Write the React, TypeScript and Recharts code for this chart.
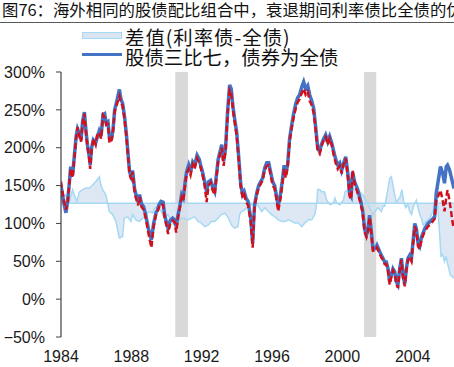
import { ComposedChart, Line, Area, XAxis, YAxis, ReferenceArea } from "recharts";

// 股债三比七组合净值（%），按时间读取
const years = [
  1984.0, 1984.06, 1984.15, 1984.28, 1984.38, 1984.46, 1984.55, 1984.66, 1984.86, 1984.94,
  1985.06, 1985.14, 1985.23, 1985.33, 1985.43, 1985.51, 1985.6, 1985.66, 1985.74, 1985.84,
  1985.97, 1986.05, 1986.17, 1986.28, 1986.39, 1986.48, 1986.58, 1986.67, 1986.76, 1986.88,
  1986.96, 1987.05, 1987.16, 1987.32, 1987.42, 1987.5, 1987.62, 1987.73, 1987.82, 1987.9,
  1987.99, 1988.07, 1988.19, 1988.3, 1988.39, 1988.47, 1988.58, 1988.7, 1988.81, 1988.98,
  1989.14, 1989.27, 1989.41, 1989.49, 1989.58, 1989.69, 1989.81, 1989.89, 1990.01, 1990.09,
  1990.21, 1990.35, 1990.46, 1990.55, 1990.66, 1990.75, 1990.86, 1990.95, 1991.06, 1991.14,
  1991.26, 1991.37, 1991.49, 1991.6, 1991.74, 1991.86, 1991.94, 1992.05, 1992.17, 1992.28,
  1992.39, 1992.51, 1992.62, 1992.74, 1992.82, 1992.94, 1993.05, 1993.14, 1993.25, 1993.36,
  1993.48, 1993.59, 1993.68, 1993.79, 1993.9, 1993.99, 1994.1, 1994.22, 1994.33, 1994.42,
  1994.53, 1994.64, 1994.79, 1994.9, 1994.96, 1995.01, 1995.13, 1995.24, 1995.35, 1995.47,
  1995.58, 1995.7, 1995.81, 1995.92, 1996.04, 1996.15, 1996.24, 1996.35, 1996.46, 1996.58,
  1996.69, 1996.78, 1996.89, 1997.0, 1997.12, 1997.23, 1997.35, 1997.46, 1997.57, 1997.69,
  1997.8, 1997.91, 1998.03, 1998.14, 1998.26, 1998.37, 1998.48, 1998.6, 1998.71, 1998.82,
  1998.94, 1999.05, 1999.17, 1999.28, 1999.39, 1999.51, 1999.62, 1999.74, 1999.85, 1999.96,
  2000.08, 2000.19, 2000.25, 2000.34, 2000.41, 2000.5, 2000.58, 2000.7, 2000.87, 2001.04,
  2001.15, 2001.27, 2001.37, 2001.46, 2001.55, 2001.65, 2001.74, 2001.89, 2001.97, 2002.12,
  2002.22, 2002.31, 2002.41, 2002.5, 2002.6, 2002.69, 2002.79, 2002.88, 2002.98, 2003.07,
  2003.16, 2003.26, 2003.36, 2003.45, 2003.55, 2003.64, 2003.73, 2003.83, 2003.93, 2004.02,
  2004.12, 2004.21, 2004.3, 2004.4, 2004.5, 2004.59, 2004.68, 2004.87, 2005.06, 2005.25,
  2005.34, 2005.43, 2005.58, 2005.7, 2005.81, 2005.91, 2005.98, 2006.09, 2006.28, 2006.35,
];

// 股债三比七，债券为全债
const allBond = [
  150, 142, 128, 114, 130, 150, 175, 164, 215, 225,
  218, 210, 235, 247, 220, 203, 190, 177, 200, 210,
  206, 213, 222, 215, 244, 245, 232, 234, 212, 213,
  224, 250, 260, 277, 263, 259, 240, 215, 190, 168,
  162, 170, 145, 135, 128, 138, 126, 122, 112, 92,
  78, 100, 115, 118, 125, 129, 128, 112, 100, 94,
  104, 107, 105, 96, 112, 122, 138, 134, 155, 168,
  177, 168, 181, 177, 190, 185, 177, 168, 155, 142,
  155, 157, 148, 142, 160, 185, 195, 204, 182, 200,
  250, 283, 278, 252, 234, 221, 190, 152, 138, 142,
  133, 129, 107, 74, 105, 125, 140, 150, 155, 160,
  173, 180, 180, 168, 155, 150, 138, 124, 135, 155,
  177, 165, 178, 212, 230, 245, 258, 266, 270, 280,
  287, 278, 282, 270, 262, 252, 228, 199, 195, 205,
  212, 217, 208, 215, 207, 195, 185, 177, 180, 170,
  180, 188, 178, 160, 140, 136, 168, 155, 145, 130,
  118, 92, 85, 93, 111, 89, 67, 67, 71, 63,
  58, 54, 49, 49, 40, 23, 32, 40, 36, 23,
  19, 40, 54, 32, 20, 40, 54, 58, 54, 76,
  100, 93, 75, 70, 82, 87, 93, 100, 104, 109,
  140, 153, 175, 167, 153, 175, 177, 171, 153, 146,
];

// 股债三比七，债券为利率债
const rateBond = [
  155, 145, 132, 118, 128, 148, 172, 160, 212, 227,
  214, 208, 232, 245, 218, 200, 186, 172, 197, 212,
  204, 216, 220, 212, 243, 240, 230, 231, 206, 210,
  222, 247, 256, 268, 258, 256, 236, 212, 186, 165,
  158, 168, 140, 130, 124, 135, 122, 118, 108, 86,
  68, 96, 112, 116, 122, 126, 124, 108, 96, 86,
  100, 104, 102, 88, 108, 120, 134, 130, 150, 165,
  172, 164, 178, 172, 186, 180, 174, 164, 150, 128,
  150, 154, 144, 138, 156, 182, 192, 200, 176, 196,
  245, 276, 272, 248, 230, 216, 186, 148, 134, 138,
  128, 124, 102, 68, 100, 122, 137, 147, 152, 157,
  170, 176, 177, 164, 150, 146, 134, 116, 130, 150,
  172, 160, 174, 208, 226, 240, 252, 260, 264, 272,
  278, 270, 274, 262, 256, 246, 224, 196, 192, 202,
  210, 214, 204, 212, 204, 190, 180, 172, 176, 166,
  178, 186, 174, 156, 136, 132, 170, 152, 140, 126,
  114, 88, 82, 90, 108, 86, 64, 64, 68, 60,
  55, 52, 46, 46, 37, 19, 30, 38, 33, 20,
  15, 38, 52, 28, 17, 38, 51, 55, 50, 72,
  96, 90, 70, 66, 78, 84, 89, 96, 100, 106,
  131, 135, 144, 131, 116, 134, 144, 131, 100, 93,
];

// 差值（利率债-全债），百分点
const diffYears = [
  1984.0, 1984.19, 1984.38, 1984.47, 1984.66, 1984.76, 1984.9, 1985.04, 1985.23, 1985.42,
  1985.61, 1985.8, 1985.99, 1986.18, 1986.27, 1986.37, 1986.55, 1986.65, 1986.75, 1986.94,
  1987.12, 1987.32, 1987.5, 1987.6, 1987.79, 1987.98, 1988.07, 1988.26, 1988.45, 1988.64,
  1988.83, 1989.02, 1989.21, 1989.32, 1989.51, 1989.71, 1989.89, 1990.08, 1990.27, 1990.46,
  1990.65, 1990.84, 1991.03, 1991.22, 1991.41, 1991.6, 1991.79, 1991.98, 1992.17, 1992.36,
  1992.55, 1992.74, 1992.92, 1993.12, 1993.31, 1993.49, 1993.69, 1993.87, 1994.06, 1994.16,
  1994.26, 1994.44, 1994.63, 1994.83, 1995.03, 1995.22, 1995.41, 1995.6, 1995.79, 1995.98,
  1996.17, 1996.36, 1996.55, 1996.74, 1996.93, 1997.12, 1997.3, 1997.5, 1997.69, 1997.87,
  1998.07, 1998.26, 1998.44, 1998.54, 1998.6, 1998.73, 1998.82, 1998.98, 1999.11, 1999.3,
  1999.49, 1999.58, 1999.68, 1999.86, 2000.06, 2000.15, 2000.34, 2000.53, 2000.8, 2000.99,
  2001.17, 2001.37, 2001.55, 2001.74, 2001.84, 2002.03, 2002.22, 2002.31, 2002.41, 2002.5,
  2002.6, 2002.69, 2002.79, 2002.88, 2002.98, 2003.07, 2003.26, 2003.39, 2003.49, 2003.6,
  2003.73, 2003.83, 2003.93, 2004.02, 2004.21, 2004.3, 2004.4, 2004.5, 2004.59, 2004.78,
  2004.97, 2005.06, 2005.15, 2005.31, 2005.38, 2005.43, 2005.53, 2005.61, 2005.7, 2005.81,
  2005.89, 2006.0, 2006.14, 2006.35,
];

const diffValues = [
  13, 11, 11, 2, 18, 11, 2, 15, 18, 20,
  20, 24, 29, 35, 24, 18, 11, 0, -11, -15,
  -24, -46, -44, -20, -18, -24, -15, -22, -24, -20,
  -15, -11, -13, -7, -4, -11, -20, -15, -24, -29,
  -24, -20, -20, -22, -20, -18, -24, -26, -31, -29,
  -24, -24, -20, -15, -13, -18, -29, -33, -31, -15,
  -11, -9, -4, -2, 0, -4, -11, -6, -11, -15,
  -18, -22, -24, -24, -22, -24, -26, -26, -31, -26,
  -22, -22, -15, 0, 18, 18, 15, 15, 4, -2,
  0, 7, 0, -2, 4, 15, 18, 18, 20, 15,
  11, 2, -6, -15, -11, -6, -11, -4, -4, 7,
  20, 33, 35, 24, 11, 2, 7, 18, 2, -6,
  -2, -11, -15, -6, 4, -6, -15, -20, -29, -24,
  -20, -15, -11, -2, 9, -6, -40, -70, -68, -77,
  -70, -81, -95, -99,
];

const recessions = [
  [1990.5, 1991.22],
  [2001.23, 2001.93],
];

const xTicks = [1984, 1988, 1992, 1996, 2000, 2004];
const yTicks = [-50, 0, 50, 100, 150, 200, 250, 300];

const mainData = years.map((year, i) => ({
  year,
  allBond: allBond[i],
  rateBond: rateBond[i],
}));

const diffData = diffYears.map((year, i) => ({
  year,
  diff: [0, diffValues[i]],
}));

const cjk = '"Noto Sans CJK SC", "Noto Sans", sans-serif';
const latin = '"Liberation Sans", Arial, sans-serif';

const fmtPct = (v: number) => (v < 0 ? `\u2212${-v}%` : `${v}%`);

export default function App() {
  return (
    <div
      style={{
        position: "absolute",
        left: 0,
        top: 0,
        width: 454,
        height: 367,
        overflow: "hidden",
        background: "#fff",
      }}
    >
      <ComposedChart
        width={454}
        height={367}
        margin={{ top: 72, right: 0, bottom: 0, left: 0 }}
      >
        <XAxis
          dataKey="year"
          type="number"
          domain={[1984, 2006.35]}
          allowDataOverflow
          ticks={xTicks}
          axisLine={false}
          tickLine={false}
          tickSize={0}
          tickMargin={14}
          height={30}
          tick={{ fontSize: 16, fill: "#1a1a1a", fontFamily: latin }}
        />
        <YAxis
          yAxisId="main"
          type="number"
          domain={[-50, 300]}
          ticks={yTicks}
          width={61}
          tickSize={5}
          tickMargin={11}
          axisLine={{ stroke: "#404040", strokeWidth: 1.2 }}
          tickLine={{ stroke: "#404040" }}
          tickFormatter={fmtPct}
          tick={{ fontSize: 16, fill: "#1a1a1a", fontFamily: latin }}
        />
        <YAxis
          yAxisId="diff"
          hide
          orientation="right"
          width={0}
          type="number"
          domain={[-176.7, 173.3]}
        />
        {recessions.map(([a, b]) => (
          <ReferenceArea
            key={a}
            yAxisId="main"
            x1={a}
            x2={b}
            fill="#d9d9d9"
            fillOpacity={1}
            stroke="none"
          />
        ))}
        <Area
          yAxisId="diff"
          data={diffData}
          dataKey="diff"
          type="linear"
          stroke="#a6d9f3"
          strokeWidth={1.5}
          fill="#d6e1f1"
          fillOpacity={0.8}
          dot={false}
          activeDot={false}
          isAnimationActive={false}
        />
        <Line
          yAxisId="main"
          data={mainData}
          dataKey="allBond"
          type="linear"
          stroke="#4472c4"
          strokeWidth={3.5}
          dot={false}
          activeDot={false}
          isAnimationActive={false}
        />
        <Line
          yAxisId="main"
          data={mainData}
          dataKey="rateBond"
          type="linear"
          stroke="#d0101c"
          strokeWidth={2.5}
          strokeDasharray="6 3"
          dot={false}
          activeDot={false}
          isAnimationActive={false}
        />
      </ComposedChart>

      <div
        style={{
          position: "absolute",
          left: 2,
          top: -1,
          fontFamily: cjk,
          fontSize: 16.4,
          lineHeight: "20px",
          color: "#111",
          whiteSpace: "nowrap",
        }}
      >
        图76：海外相同的股债配比组合中，衰退期间利率债比全债的优
      </div>
      <div
        style={{
          position: "absolute",
          left: 0,
          top: 22,
          width: 454,
          height: 1,
          background: "#595959",
        }}
      />

      <div
        style={{
          position: "absolute",
          left: 82,
          top: 32,
          width: 38,
          height: 5,
          background: "#dbe5f1",
          border: "1px solid #a6d9f3",
        }}
      />
      <div
        style={{
          position: "absolute",
          left: 125,
          top: 26.5,
          fontFamily: cjk,
          fontSize: 19.4,
          lineHeight: "20px",
          letterSpacing: 1,
          color: "#111",
          whiteSpace: "nowrap",
        }}
      >
        差值(利率债-全债)
      </div>
      <div
        style={{
          position: "absolute",
          left: 82,
          top: 53,
          width: 40,
          height: 3,
          background: "#4472c4",
        }}
      />
      <div
        style={{
          position: "absolute",
          left: 125,
          top: 46.5,
          fontFamily: cjk,
          fontSize: 19.4,
          lineHeight: "20px",
          color: "#111",
          whiteSpace: "nowrap",
        }}
      >
        股债三比七，债券为全债
      </div>
    </div>
  );
}
